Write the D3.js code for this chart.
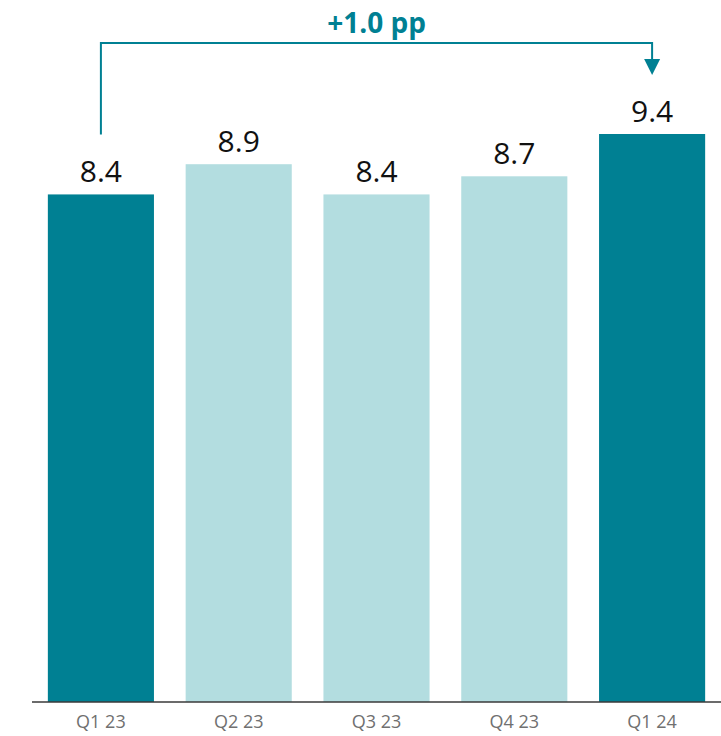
<!DOCTYPE html>
<html>
<head>
<meta charset="utf-8">
<script src="https://cdn.jsdelivr.net/npm/d3@7/dist/d3.min.js"></script>
<style>
  html, body { margin: 0; padding: 0; background: #fff; }
  svg { display: block; }
</style>
</head>
<body>
<svg id="chart" width="721" height="736"></svg>
<script>
// Quarterly values
const categories = ["Q1 23", "Q2 23", "Q3 23", "Q4 23", "Q1 24"];
const values = [8.4, 8.9, 8.4, 8.7, 9.4];
const highlighted = [true, false, false, false, true];
const changeLabel = "+1.0 pp";

const W = 721, H = 736;
const baseY = 702;
const darkTeal = "#008093";
const lightTeal = "#b3dde0";
const font = "'Open Sans', 'Noto Sans', sans-serif";

const svg = d3.select("#chart");

const x = d3.scaleBand()
  .domain(categories)
  .range([32, 721])
  .paddingInner(0.23)
  .paddingOuter(0.115);

const y = d3.scaleLinear()
  .domain([0, 9.4])
  .range([baseY, 134]);

const data = categories.map((c, i) => ({ c, v: values[i], hi: highlighted[i] }));

// Bars
svg.append("g").selectAll("rect")
  .data(data)
  .join("rect")
  .attr("x", d => x(d.c))
  .attr("y", d => y(d.v))
  .attr("width", x.bandwidth())
  .attr("height", d => y(0) - y(d.v))
  .attr("fill", d => d.hi ? darkTeal : lightTeal);

// Value labels
svg.append("g").selectAll("text")
  .data(data)
  .join("text")
  .attr("x", d => x(d.c) + x.bandwidth() / 2)
  .attr("y", d => y(d.v) - 12)
  .attr("text-anchor", "middle")
  .attr("font-family", font)
  .attr("font-size", 30)
  .attr("fill", "#111")
  .text(d => d.v.toFixed(1));

// Category axis
const axis = svg.append("g")
  .attr("transform", `translate(0,${baseY})`)
  .call(d3.axisBottom(x).tickSize(0).tickPadding(13));
axis.select(".domain").remove();
axis.selectAll("text")
  .attr("font-family", font)
  .attr("font-size", 18)
  .attr("fill", "#707070");
axis.append("line")
  .attr("x1", 32).attr("x2", 721)
  .attr("y1", 0).attr("y2", 0)
  .attr("stroke", "#3a3a3a")
  .attr("stroke-width", 1.5);

// Change bracket from first to last quarter
const first = data[0], last = data[data.length - 1];
const xa = x(first.c) + x.bandwidth() / 2;
const xb = x(last.c) + x.bandwidth() / 2;
const topY = 43;
const startY = y(first.v) - 60;
const tipY = y(last.v) - 59;

svg.append("path")
  .attr("d", `M${xa},${startY} V${topY} H${xb} V${tipY - 14}`)
  .attr("fill", "none")
  .attr("stroke", darkTeal)
  .attr("stroke-width", 2);

svg.append("path")
  .attr("d", `M${xb - 8},${tipY - 16} L${xb + 8},${tipY - 16} L${xb},${tipY} Z`)
  .attr("fill", darkTeal);

svg.append("text")
  .attr("x", (xa + xb) / 2)
  .attr("y", 33)
  .attr("text-anchor", "middle")
  .attr("font-family", font)
  .attr("font-weight", 700)
  .attr("font-size", 28)
  .attr("fill", darkTeal)
  .text(changeLabel);
</script>
</body>
</html>
